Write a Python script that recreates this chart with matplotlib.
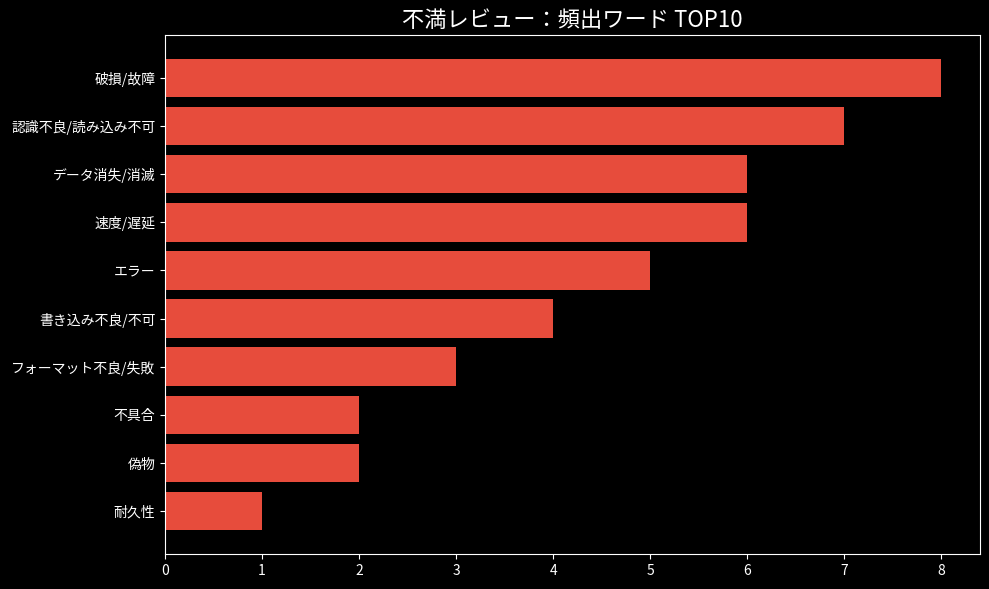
import matplotlib
matplotlib.use("Agg")
import matplotlib.pyplot as plt

plt.style.use("dark_background")
plt.rcParams['font.family'] = ['Noto Sans CJK JP', 'DejaVu Sans']

# 不満レビューの頻出ワード
words = ["破損/故障", "認識不良/読み込み不可", "データ消失/消滅", "速度/遅延", "エラー",
         "書き込み不良/不可", "フォーマット不良/失敗", "不具合", "偽物", "耐久性"]
counts = [8, 7, 6, 6, 5, 4, 3, 2, 2, 1]

fig, ax = plt.subplots(figsize=(9.89, 5.89), dpi=100)
fig.subplots_adjust(left=0.1668, right=0.991, top=0.9406, bottom=0.0594)

ax.barh(words[::-1], counts[::-1], color="#E74C3C")
ax.set_title("不満レビュー：頻出ワード TOP10", fontsize=16)

plt.savefig("out.png", dpi=100)
